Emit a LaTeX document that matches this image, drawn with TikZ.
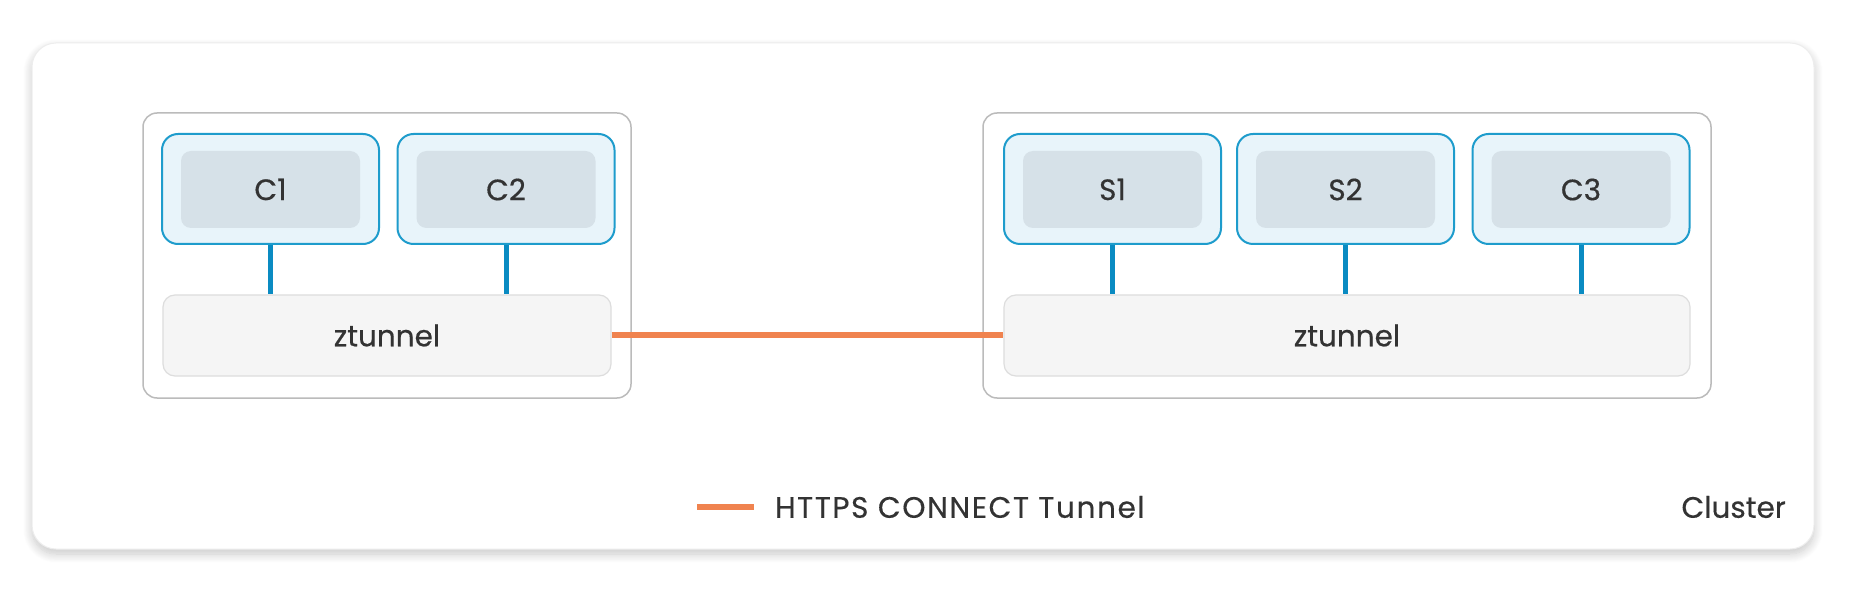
\documentclass[tikz,border=0pt]{standalone}
\usepackage{fontspec}
\newfontface\lblfont{Poppins}[FakeBold=0.4]
\newfontface\legfont{Poppins}[FakeBold=0.4,LetterSpace=5.5]
\usetikzlibrary{shadows.blur}
\definecolor{txt}{HTML}{333333}
\definecolor{podfill}{HTML}{E8F4FA}
\definecolor{podline}{HTML}{1E9CCC}
\definecolor{podin}{HTML}{D6E1E8}
\definecolor{ztfill}{HTML}{F5F5F5}
\definecolor{ztline}{HTML}{DDDDDD}
\definecolor{nodeline}{HTML}{BBBBBB}
\definecolor{link}{HTML}{0A8BC2}
\definecolor{tunnel}{HTML}{F0834F}
\begin{document}
\begin{tikzpicture}[x=1pt,y=-1pt,
  lbl/.style={text=txt,font=\lblfont\fontsize{29.5}{34}\selectfont},
  leg/.style={text=txt,font=\legfont\fontsize{29.5}{34}\selectfont},
  clusterbox/.style={draw=black!7,line width=1pt,fill=white,rounded corners=24pt,
     blur shadow={shadow xshift=0pt,shadow yshift=-5pt,shadow blur radius=9pt,shadow blur steps=12,shadow opacity=22}},
  nodebox/.style={draw=nodeline,line width=1.5pt,fill=white,rounded corners=14pt},
  pod/.style={draw=podline,line width=2pt,fill=podfill,rounded corners=16pt,minimum width=217pt,minimum height=110pt},
  podinner/.style={fill=podin,rounded corners=10pt,minimum width=179pt,minimum height=77pt,lbl},
  zt/.style={draw=ztline,line width=1.2pt,fill=ztfill,rounded corners=12pt,minimum height=81pt,lbl},
  linkline/.style={draw=link,line width=5pt},
  tun/.style={draw=tunnel,line width=6pt}]
\useasboundingbox (0,0) rectangle (1852,593);
\node[clusterbox,minimum width=1782pt,minimum height=506pt] (cluster) at (923,296) {};
\node[nodebox,minimum width=488pt,minimum height=285pt] (L) at (387,255.5) {};
\node[nodebox,minimum width=728pt,minimum height=285pt] (R) at (1347,255.5) {};
% pods
\node[pod] (C1) at (270.5,189) {};
\node[podinner] (C1i) at (270.5,189.5) {C1};
\node[pod] (C2) at (506,189) {};
\node[podinner] (C2i) at (506,189.5) {C2};
\node[pod] (S1) at (1112.5,189) {};
\node[podinner] (S1i) at (1112.5,189.5) {S1};
\node[pod] (S2) at (1345.5,189) {};
\node[podinner] (S2i) at (1345.5,189.5) {S2};
\node[pod] (C3) at (1581,189) {};
\node[podinner] (C3i) at (1581,189.5) {C3};
% ztunnels
\node[zt,minimum width=448pt] (ztL) at (387,335.5) {ztunnel};
\node[zt,minimum width=686pt] (ztR) at (1347,335.5) {ztunnel};
% links
\foreach \p/\z in {C1/ztL,C2/ztL,S1/ztR,S2/ztR,C3/ztR}
  \draw[linkline] (\p.south) -- (\p.south |- \z.north);
\draw[tun] (ztL.east) -- (ztR.west);
% legend
\coordinate (legA) at (697,507);
\coordinate (legB) at (754,507);
\draw[tun] (legA) -- (legB);
\node[leg,anchor=west,inner sep=0pt] (legtxt) at (775,507) {HTTPS CONNECT Tunnel};
\node[lbl,anchor=east,inner sep=0pt] (clusterlbl) at (1786,507) {Cluster};
\end{tikzpicture}
\end{document}
